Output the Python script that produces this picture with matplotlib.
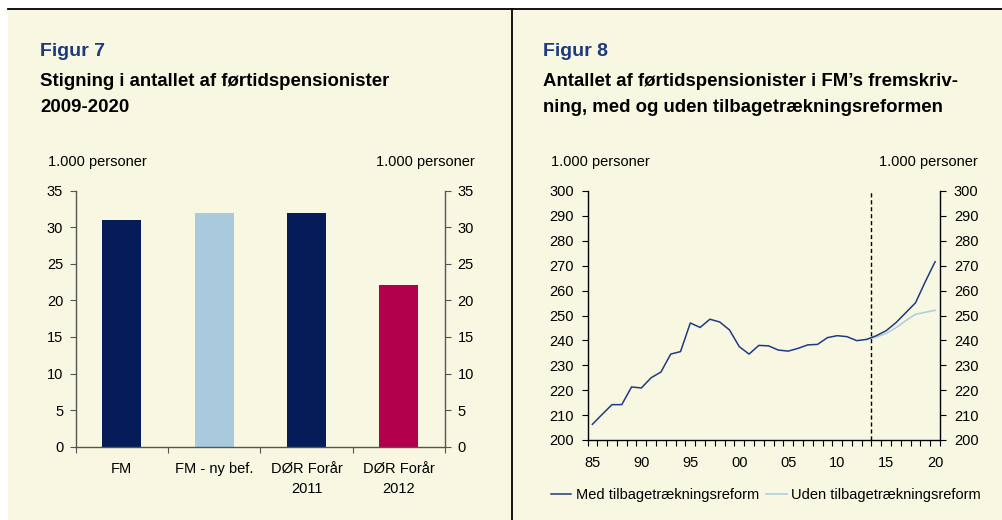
import numpy as np
import matplotlib
matplotlib.use("Agg")
import matplotlib.pyplot as plt
from matplotlib.patches import Rectangle
from matplotlib.lines import Line2D

plt.rcParams['font.family'] = ['Liberation Sans', 'DejaVu Sans']

# Figur 7 data
bar_labels = ['FM', 'FM - ny bef.', 'DØR Forår\n2011', 'DØR Forår\n2012']
bar_values = [31.0, 32.0, 32.0, 22.1]
bar_colors = ['#061c58', '#a8cadc', '#061c58', '#b3004a']

# Figur 8 data
years = np.arange(1985, 2021)
med_reform = [206.3, 210.3, 214.2, 214.2, 221.3, 220.9, 225.0, 227.3, 234.5, 235.5,
              247.0, 245.2, 248.5, 247.4, 244.2, 237.5, 234.5, 238.0, 237.8, 236.1,
              235.7, 236.8, 238.2, 238.4, 241.1, 241.9, 241.5, 239.9, 240.4, 241.9,
              243.9, 247.1, 251.1, 255.1, 263.6, 271.6]
uden_years = np.arange(2013, 2021)
uden_reform = [240.4, 241.3, 242.8, 245.1, 247.9, 250.5, 251.3, 252.1]

W, H = 1002, 520
bg = '#f8f7e1'
title_blue = '#1c3a7c'

fig = plt.figure(figsize=(W / 100, H / 100), dpi=100)
fig.patch.set_facecolor('white')

def fx(px):
    return px / W

def fy(py):
    return 1 - py / H

# cream panel, top rule and divider
fig.patches.append(Rectangle((fx(8), 0), 1 - fx(8), fy(9), transform=fig.transFigure,
                             facecolor=bg, edgecolor='none', zorder=-5))
fig.lines.append(Line2D([fx(8), 1], [fy(9), fy(9)], transform=fig.transFigure,
                        color='black', lw=1.3))
fig.lines.append(Line2D([fx(512), fx(512)], [0, fy(9)], transform=fig.transFigure,
                        color='black', lw=1.3))

# titles
fig.text(fx(40), fy(52), 'Figur 7', fontsize=14, fontweight='bold', color=title_blue, va='center')
fig.text(fx(40), fy(81), 'Stigning i antallet af førtidspensionister', fontsize=13.4,
         fontweight='bold', va='center')
fig.text(fx(40), fy(108), '2009-2020', fontsize=13.4, fontweight='bold', va='center')

fig.text(fx(543), fy(52), 'Figur 8', fontsize=14, fontweight='bold', color=title_blue, va='center')
fig.text(fx(543), fy(81), 'Antallet af førtidspensionister i FM\u2019s fremskriv-', fontsize=13.4,
         fontweight='bold', va='center')
fig.text(fx(543), fy(108), 'ning, med og uden tilbagetrækningsreformen', fontsize=13.4,
         fontweight='bold', va='center')

# unit labels
fig.text(fx(48), fy(162), '1.000 personer', fontsize=10.5, va='center')
fig.text(fx(475), fy(162), '1.000 personer', fontsize=10.5, va='center', ha='right')
fig.text(fx(551), fy(162), '1.000 personer', fontsize=10.5, va='center')
fig.text(fx(978), fy(162), '1.000 personer', fontsize=10.5, va='center', ha='right')

# ---- Figur 7: bar chart ----
ax1 = fig.add_axes([fx(75.7), fy(446.7), fx(445) - fx(75.7), fy(190.7) - fy(446.7)])
ax1.set_facecolor('none')
x = np.arange(len(bar_values))
ax1.bar(x, bar_values, width=0.42, color=bar_colors, zorder=2)
ax1.set_xlim(-0.5, 3.5)
ax1.set_ylim(0, 35)
ax1.set_yticks(np.arange(0, 36, 5))
ax1.set_xticks(np.arange(-0.5, 4, 1))
ax1.set_xticklabels([])
ax1.set_xticks(x, minor=True)
ax1.set_xticklabels(bar_labels, minor=True, fontsize=10.5, linespacing=1.55)
ax1.tick_params(axis='x', which='minor', length=0, pad=11)
ax1.tick_params(axis='x', which='major', length=4, direction='out', color='#555555')
ax1.tick_params(axis='y', which='major', left=True, right=True, labelleft=True,
                labelright=True, direction='out', labelsize=10.5, color='#555555',
                length=4, pad=5)
ax1.spines['top'].set_visible(False)
for s in ['left', 'right', 'bottom']:
    ax1.spines[s].set_color('#555555')
    ax1.spines[s].set_linewidth(1.0)

# ---- Figur 8: line chart ----
ax2 = fig.add_axes([fx(587.5), fy(440), fx(940) - fx(587.5), fy(191) - fy(440)])
ax2.set_facecolor('none')
ax2.plot(uden_years, uden_reform, color='#a9cde2', lw=1.1, zorder=2)
ax2.plot(years, med_reform, color='#1f3b82', lw=1.1, zorder=3)
ax2.axvline(2013.5, color='black', lw=1.0, ls=(0, (3, 2)), zorder=1)
ax2.set_xlim(1984.5, 2020.5)
ax2.set_ylim(200, 300)
ax2.set_yticks(np.arange(200, 301, 10))
ax2.set_xticks(np.arange(1984.5, 2021, 1))
ax2.set_xticklabels([])
label_years = np.arange(1985, 2021, 5)
ax2.set_xticks(label_years, minor=True)
ax2.set_xticklabels(['%02d' % (y % 100) for y in label_years], minor=True, fontsize=10.5)
ax2.tick_params(axis='x', which='minor', length=0, pad=11.5)
ax2.tick_params(axis='x', which='major', length=4, direction='out')
ax2.tick_params(axis='y', left=True, right=True, labelleft=True, labelright=True,
                direction='out', length=4, pad=6, labelsize=10.5)
ax2.spines['top'].set_visible(False)
for s in ['left', 'right', 'bottom']:
    ax2.spines[s].set_linewidth(1.0)

handles = [Line2D([], [], color='#1f3b82', lw=1.1), Line2D([], [], color='#a9cde2', lw=1.1)]
fig.legend(handles, ['Med tilbagetrækningsreform', 'Uden tilbagetrækningsreform'],
           loc='center left', bbox_to_anchor=(fx(551), fy(495)), ncol=2, frameon=False,
           fontsize=10.5, handlelength=1.4, handletextpad=0.3, columnspacing=0.5,
           borderpad=0, borderaxespad=0)

fig.savefig('out.png', dpi=100, facecolor=fig.get_facecolor())
